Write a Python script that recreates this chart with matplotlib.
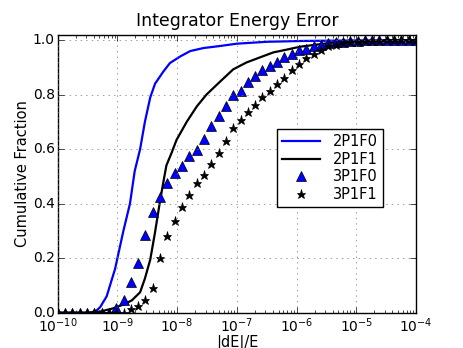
import numpy as np
import matplotlib
matplotlib.use('Agg')
import matplotlib.pyplot as plt

plt.style.use('classic')

# line series: log10(|dE|/E) and cumulative fraction
blue_logx = [-10.0, -9.45, -9.35, -9.29, -9.18, -9.04, -8.90, -8.79, -8.71,
             -8.62, -8.54, -8.45, -8.37, -8.23, -8.12, -7.95, -7.78, -7.56,
             -7.30, -7.00, -6.50, -5.90, -5.00, -4.0]
blue_cdf = [0.0, 0.0, 0.008, 0.02, 0.06, 0.16, 0.30, 0.40, 0.52,
            0.60, 0.70, 0.79, 0.84, 0.885, 0.916, 0.94, 0.96, 0.971,
            0.978, 0.987, 0.994, 0.997, 0.999, 1.0]

black_logx = [-10.0, -9.50, -9.29, -9.07, -8.90, -8.76, -8.62, -8.54, -8.45,
              -8.37, -8.29, -8.23, -8.18, -8.09, -8.01, -7.84, -7.67, -7.51,
              -7.28, -7.06, -6.84, -6.61, -6.39, -6.17, -5.94, -5.39, -4.83, -4.0]
black_cdf = [0.0, 0.0, 0.004, 0.016, 0.03, 0.045, 0.075, 0.125, 0.195,
             0.295, 0.405, 0.48, 0.54, 0.588, 0.634, 0.70, 0.757, 0.80,
             0.848, 0.893, 0.918, 0.937, 0.955, 0.965, 0.976, 0.991, 0.996, 0.999]

# marker series, one value per log bin
bins = np.logspace(-10, -4, 50)
tri_cdf = [0, 0, 0, 0, 0, 0, 0, 0, 0.016, 0.047,
           0.114, 0.184, 0.285, 0.371, 0.426, 0.477, 0.512, 0.540, 0.575, 0.597,
           0.638, 0.685, 0.723, 0.760, 0.798, 0.815, 0.848, 0.868, 0.889, 0.905,
           0.920, 0.938, 0.950, 0.965, 0.969, 0.978, 0.984, 0.989, 0.993, 0.995,
           0.997, 0.998, 0.999, 1.0, 1.0, 1.0, 1.0, 1.0, 1.0, 1.0]
star_cdf = [0, 0, 0, 0, 0, 0, 0, 0, 0, 0,
            0.012, 0.025, 0.047, 0.092, 0.202, 0.283, 0.338, 0.388, 0.432, 0.477,
            0.506, 0.544, 0.585, 0.629, 0.676, 0.707, 0.736, 0.763, 0.791, 0.815,
            0.840, 0.860, 0.889, 0.913, 0.933, 0.950, 0.965, 0.977, 0.984, 0.989,
            0.992, 0.994, 0.996, 0.997, 0.998, 0.999, 0.999, 1.0, 1.0, 1.0]

fig = plt.figure(figsize=(4.63, 3.48), dpi=100)
ax = fig.add_axes([0.1246, 0.1014, 0.7739, 0.7989])

ax.plot(10 ** np.array(blue_logx), blue_cdf, 'b-', lw=1.6, label='2P1F0')
ax.plot(10 ** np.array(black_logx), black_cdf, 'k-', lw=1.6, label='2P1F1')
ax.plot(bins, tri_cdf, 'b^', ls='none', ms=7, mec='k', label='3P1F0')
ax.plot(bins, star_cdf, 'k*', ls='none', ms=6.5, label='3P1F1')

ax.set_xscale('log')
ax.set_xlim(1e-10, 1e-4)
ax.set_ylim(0, 1.02)
ax.set_yticks([0.0, 0.2, 0.4, 0.6, 0.8, 1.0])
ax.tick_params(axis='both', which='major', labelsize=10)
ax.tick_params(axis='y', pad=2)
ax.tick_params(axis='x', pad=3)
ax.grid(True, color='0.45')

ax.set_title('Integrator Energy Error', fontsize=12.5, y=1.005)
ax.set_xlabel('|dE|/E', fontsize=10.5, labelpad=0)
ax.set_ylabel('Cumulative Fraction', fontsize=10.5, labelpad=2)

ax.legend(loc='center left', bbox_to_anchor=(0.612, 0.52), numpoints=1,
          fontsize=10.5, handlelength=2.6, labelspacing=0.18, borderpad=0.35,
          handletextpad=0.9, borderaxespad=0)

plt.savefig('out.png', dpi=100)
